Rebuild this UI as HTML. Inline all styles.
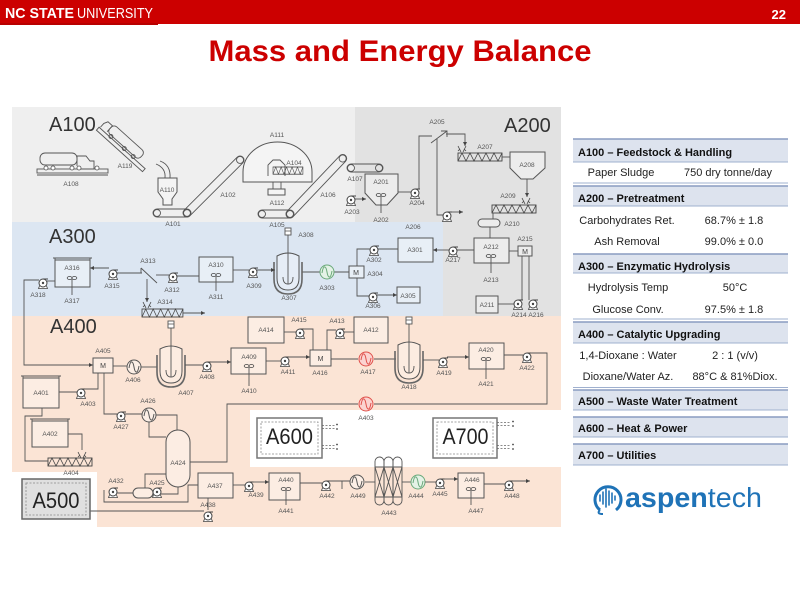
<!DOCTYPE html>
<html><head><meta charset="utf-8"><style>
html,body{margin:0;padding:0;background:#fff;}
svg{display:block;font-family:"Liberation Sans",Arial,sans-serif;}
.l{font-size:6.5px;fill:#555;text-anchor:middle;}
.s{stroke:#555;stroke-width:0.9;fill:none;}
.b{fill:#fff;fill-opacity:.35;stroke:#555;stroke-width:1;}
.th{font-size:11px;font-weight:bold;fill:#111;}
.td{font-size:11px;fill:#222;text-anchor:middle;}
.big{font-size:20px;fill:#333;}
.m{font-size:7px;fill:#444;text-anchor:middle;}
</style></head><body>
<svg width="800" height="600" viewBox="0 0 800 600" xmlns="http://www.w3.org/2000/svg">
<defs>
<marker id="ar" markerWidth="4" markerHeight="4" refX="4" refY="2" orient="auto" markerUnits="userSpaceOnUse"><path d="M0,0 L4,2 L0,4 Z" fill="#444"/></marker>
<g id="p"><path d="M-3.3,2.5 L-4.5,5.5 H4.5 L3.3,2.5" fill="#fff" stroke="#444" stroke-width=".8"/><circle r="4" fill="#fff" stroke="#444" stroke-width="1"/><path d="M0,-4 H5" stroke="#444" stroke-width="1"/><circle r="1.2" fill="#444"/></g>
<g id="ag"><ellipse cx="-2.4" cy="0" rx="2.4" ry="1.5" fill="none" stroke="#444" stroke-width=".8"/><ellipse cx="2.4" cy="0" rx="2.4" ry="1.5" fill="none" stroke="#444" stroke-width=".8"/></g>
<g id="hx"><circle r="7"/><path d="M-5,1 C-3.5,-8 -1,-6 0,0 S3.5,8 5,-1" fill="none"/></g>
<g id="sc"><rect x="0" y="0" width="44" height="8" fill="none" stroke="#444" stroke-width=".9"/><polyline points="0,8 4,0 8,8 12,0 16,8 20,0 24,8 28,0 32,8 36,0 40,8 44,0" fill="none" stroke="#444" stroke-width=".8"/></g>
<g id="fn"><path d="M-4,-6 L-1,0 M4,-6 L1,0 M-2,-3 L-4,-1 M2,-3 L4,-1" fill="none" stroke="#444" stroke-width=".8"/></g>
<g id="rx">
<path d="M-11,4 V26 Q-11,38 0,38 Q11,38 11,26 V4 Q0,-2 -11,4 Z" fill="#fff" fill-opacity=".3" stroke="#555" stroke-width="1"/>
<path d="M-14,10 V27 Q-14,42 0,42 Q14,42 14,27 V10" fill="none" stroke="#666" stroke-width="1.6"/>
<path d="M0,-17 V32 M-5,25 Q-5,32 0,32 Q5,32 5,25" fill="none" stroke="#555" stroke-width=".9"/>
<rect x="-3" y="-24" width="6" height="7" fill="#fff" stroke="#555" stroke-width=".9"/>
<path d="M-3,-21 H3" stroke="#555" stroke-width=".8"/>
</g>
<g id="cv"><rect x="-4" y="-4" width="83" height="8" rx="4" fill="none" stroke="#555" stroke-width=".9"/><circle cx="0" cy="0" r="3.5" fill="none" stroke="#555" stroke-width=".9"/><circle cx="75" cy="0" r="3.5" fill="none" stroke="#555" stroke-width=".9"/></g>
</defs>

<!-- Header -->
<rect x="0" y="0" width="800" height="24" fill="#cc0000"/>
<rect x="0" y="23" width="158" height="2" fill="#b80000"/>
<text x="5" y="18" font-size="15" font-weight="bold" fill="#fff" textLength="69" lengthAdjust="spacingAndGlyphs">NC STATE</text>
<text x="77" y="18" font-size="15" fill="#fff" textLength="76" lengthAdjust="spacingAndGlyphs">UNIVERSITY</text>
<text x="786" y="19" font-size="13" font-weight="bold" fill="#fff" text-anchor="end">22</text>
<text x="400" y="61" font-size="30" font-weight="bold" fill="#cc0000" text-anchor="middle" textLength="383" lengthAdjust="spacingAndGlyphs">Mass and Energy Balance</text>

<!-- Diagram backgrounds -->
<rect x="12" y="107" width="343" height="115" fill="#efefef"/>
<rect x="355" y="107" width="206" height="211" fill="#e2e2e2"/>
<rect x="12" y="222" width="431" height="94" fill="#dce6f2"/>
<rect x="12" y="316" width="549" height="211" fill="#fbe4d5"/>
<rect x="250" y="410" width="311" height="57" fill="#fff"/>
<rect x="0" y="472" width="97" height="58" fill="#fff"/>

<text x="49" y="131" class="big">A100</text>
<text x="504" y="132" class="big">A200</text>
<text x="49" y="243" class="big">A300</text>
<text x="50" y="333" class="big">A400</text>

<!-- ===== A100 ===== -->
<g class="s">
<rect x="40" y="153" width="37" height="12" rx="5"/>
<path d="M77,166 V156 H86 L90,161 H94 V169 H77"/>
<rect x="37" y="169" width="71" height="4"/>
<path d="M37,175 H108"/>
</g>
<g fill="#fff" stroke="#555" stroke-width=".8"><circle cx="46" cy="168" r="2"/><circle cx="53" cy="168" r="2"/><circle cx="72" cy="168" r="2"/><circle cx="79" cy="168" r="2"/><circle cx="97" cy="168" r="2"/></g>
<text x="71" y="186" class="l">A108</text>

<g transform="translate(106,124) rotate(42)" class="s">
<rect x="6" y="-5" width="42" height="10" rx="4"/>
<path d="M6,5 V-3 H0 L-2,1 V6"/>
<rect x="-3" y="7" width="62" height="4"/>
<circle cx="12" cy="6" r="2"/><circle cx="30" cy="6" r="2"/><circle cx="42" cy="6" r="2"/>
</g>
<path class="s" d="M156,164 Q166,168 165,178 M160,161 Q171,165 170,178"/>
<text x="125" y="168" class="l">A119</text>

<path class="b" d="M158,178 H177 V192 L172,199 V205 H163 V199 L158,192 Z"/>
<text x="167" y="192" class="l">A110</text>

<g class="s"><rect x="153" y="209" width="38" height="8" rx="4"/><circle cx="157" cy="213" r="3.5"/><circle cx="187" cy="213" r="3.5"/></g>
<text x="173" y="226" class="l">A101</text>
<use href="#cv" transform="translate(187,213) rotate(-45)"/>
<text x="228" y="197" class="l">A102</text>

<path class="b" d="M243,182 V172 A34.5,30 0 0 1 312,172 V182 Z"/>
<text x="277" y="137" class="l">A111</text>
<path class="s" d="M268,176 V165 L273,160 H280 L285,165 V176"/>
<use href="#sc" transform="translate(273,167) scale(0.68,0.9)"/>
<text x="294" y="165" class="l">A104</text>
<path class="s" d="M273,182 V189 M281,182 V189"/>
<rect x="268" y="189" width="17" height="6" class="b"/>
<text x="277" y="205" class="l">A112</text>
<g class="s"><rect x="258" y="210" width="36" height="8" rx="4"/><circle cx="262" cy="214" r="3.5"/><circle cx="290" cy="214" r="3.5"/></g>
<text x="277" y="227" class="l">A105</text>
<use href="#cv" transform="translate(290,214) rotate(-46.5) scale(1.02,1)"/>
<text x="328" y="197" class="l">A106</text>
<g class="s"><rect x="347" y="164" width="36" height="8" rx="4"/><circle cx="351" cy="168" r="3.5"/><circle cx="379" cy="168" r="3.5"/></g>
<text x="355" y="181" class="l">A107</text>

<!-- ===== A200 ===== -->
<path class="b" d="M365,174 H398 V193 L387,205 H376 L365,193 Z"/>
<text x="381" y="184" class="l">A201</text>
<use href="#ag" x="381" y="195"/>
<path class="s" d="M381,195 V213"/>
<text x="381" y="222" class="l">A202</text>
<path class="s" d="M355,199 H366" marker-end="url(#ar)"/>
<use href="#p" x="351" y="200"/>
<text x="352" y="214" class="l">A203</text>
<path class="s" d="M398,192 H411"/>
<use href="#p" x="415" y="193"/>
<path class="s" d="M419,189 V136 H432" />
<text x="417" y="205" class="l">A204</text>
<path class="s" d="M431,143 L447,131 M441,131 H447 V137"/>
<text x="437" y="124" class="l">A205</text>
<path class="s" d="M437,139 V215 H443"/>
<use href="#p" x="447" y="216"/>
<path class="s" d="M452,212 H463" marker-end="url(#ar)"/>
<path class="s" d="M446,134 H465 V146" marker-end="url(#ar)"/>
<use href="#sc" x="458" y="153"/>
<use href="#fn" x="462" y="152"/>
<text x="485" y="149" class="l">A207</text>
<path class="s" d="M502,157 H510"/>
<path class="b" d="M510,152 H545 V168 L533,179 H521 L510,168 Z"/>
<text x="527" y="167" class="l">A208</text>
<path class="s" d="M527,179 V197" marker-end="url(#ar)"/>
<use href="#sc" x="492" y="205"/>
<use href="#fn" x="526" y="204"/>
<text x="508" y="198" class="l">A209</text>
<path class="s" d="M493,213 V219"/>
<rect x="478" y="219" width="22" height="8" rx="4" class="b"/>
<text x="512" y="226" class="l">A210</text>
<path class="s" d="M490,227 V238"/>
<rect x="474" y="238" width="35" height="25" class="b"/>
<text x="491" y="249" class="l">A212</text>
<use href="#ag" x="491" y="256"/>
<path class="s" d="M491,256 V273"/>
<text x="491" y="282" class="l">A213</text>
<rect x="518" y="246" width="14" height="10" class="b"/>
<text x="525" y="254" class="m">M</text>
<text x="525" y="241" class="l">A215</text>
<path class="s" d="M518,251 H509"/>
<path class="s" d="M522,256 V300 M529,256 V300"/>
<rect x="476" y="296" width="22" height="17" class="b"/>
<text x="487" y="307" class="l">A211</text>
<path class="s" d="M498,304 H514"/>
<use href="#p" x="518" y="304"/>
<use href="#p" x="533" y="304"/>
<text x="519" y="317" class="l">A214</text>
<text x="536" y="317" class="l">A216</text>
<path class="s" d="M474,250 H457"/>
<use href="#p" x="453" y="251"/>
<path class="s" d="M449,250 H433" marker-end="url(#ar)"/>
<text x="453" y="262" class="l">A217</text>
<text x="413" y="229" class="l">A206</text>

<!-- ===== A300 ===== -->
<rect x="398" y="238" width="35" height="24" class="b"/>
<text x="415" y="252" class="l">A301</text>
<path class="s" d="M398,249 H378"/>
<use href="#p" x="374" y="250"/>
<path class="s" d="M370,249 H357 V266"/>
<text x="374" y="262" class="l">A302</text>
<rect x="349" y="266" width="15" height="12" class="b"/>
<text x="356" y="275" class="m">M</text>
<text x="375" y="276" class="l">A304</text>
<path class="s" d="M357,278 V296 H369"/>
<use href="#p" x="373" y="297"/>
<path class="s" d="M377,295 H397" marker-end="url(#ar)"/>
<rect x="397" y="287" width="23" height="16" class="b"/>
<text x="408" y="298" class="l">A305</text>
<text x="373" y="308" class="l">A306</text>
<path class="s" d="M302,272 H320 M334,272 H349"/>
<use href="#hx" x="327" y="272" fill="#e4f2e6" stroke="#6aa97a" stroke-width="1"/>
<text x="327" y="290" class="l">A303</text>
<use href="#rx" x="288" y="252"/>
<text x="306" y="237" class="l">A308</text>
<text x="289" y="300" class="l">A307</text>
<path class="s" d="M233,270 H249"/>
<use href="#p" x="253" y="272"/>
<path class="s" d="M257,270 H275" marker-end="url(#ar)"/>
<text x="254" y="288" class="l">A309</text>
<rect x="199" y="257" width="34" height="25" class="b"/>
<text x="216" y="267" class="l">A310</text>
<use href="#ag" x="216" y="275"/>
<path class="s" d="M216,275 V291"/>
<text x="216" y="299" class="l">A311</text>
<path class="s" d="M199,276 H177"/>
<use href="#p" x="173" y="277"/>
<path class="s" d="M169,275 H156"/>
<text x="172" y="292" class="l">A312</text>
<path class="s" d="M141,268 L157,283 M141,268 V273"/>
<text x="148" y="263" class="l">A313</text>
<path class="s" d="M147,279 V302" marker-end="url(#ar)"/>
<use href="#fn" x="147" y="308"/>
<use href="#sc" transform="translate(142,309) scale(0.93,1)"/>
<text x="165" y="304" class="l">A314</text>
<path class="s" d="M183,313 H205" marker-end="url(#ar)"/>
<path class="s" d="M142,273 H117"/>
<use href="#p" x="113" y="274"/>
<path class="s" d="M109,268 H90" marker-end="url(#ar)"/>
<text x="112" y="288" class="l">A315</text>
<rect x="55" y="260" width="35" height="27" class="b"/>
<path class="s" d="M53,258 H92 M55,258 V260 M90,258 V260"/>
<text x="72" y="270" class="l">A316</text>
<use href="#ag" x="72" y="278"/>
<path class="s" d="M72,278 V295"/>
<text x="72" y="303" class="l">A317</text>
<path class="s" d="M55,281 H47"/>
<use href="#p" x="43" y="283"/>
<path class="s" d="M39,280 H24 V365 H93" marker-end="url(#ar)"/>
<text x="38" y="297" class="l">A318</text>

<!-- ===== A400 ===== -->
<rect x="93" y="358" width="20" height="15" class="b"/>
<text x="103" y="368" class="m">M</text>
<text x="103" y="353" class="l">A405</text>
<path class="s" d="M113,366 H127"/>
<use href="#hx" x="134" y="367" fill="#fff" fill-opacity=".4" stroke="#555" stroke-width="1"/>
<text x="133" y="382" class="l">A406</text>
<path class="s" d="M141,367 H157"/>
<use href="#rx" x="171" y="345"/>
<text x="186" y="395" class="l">A407</text>
<path class="s" d="M185,365 H203"/>
<use href="#p" x="207" y="366"/>
<path class="s" d="M211,362 H231" marker-end="url(#ar)"/>
<text x="207" y="379" class="l">A408</text>
<rect x="231" y="348" width="35" height="26" class="b"/>
<text x="249" y="359" class="l">A409</text>
<use href="#ag" x="249" y="366"/>
<path class="s" d="M249,366 V386"/>
<text x="249" y="393" class="l">A410</text>
<path class="s" d="M266,361 H281"/>
<use href="#p" x="285" y="361"/>
<path class="s" d="M289,357 H310" marker-end="url(#ar)"/>
<text x="288" y="374" class="l">A411</text>
<rect x="248" y="317" width="36" height="26" class="b"/>
<text x="266" y="332" class="l">A414</text>
<path class="s" d="M284,332 H296"/>
<use href="#p" x="300" y="333"/>
<path class="s" d="M304,329 H313 V350"/>
<text x="299" y="322" class="l">A415</text>
<rect x="310" y="350" width="21" height="16" class="b"/>
<text x="320.5" y="361" class="m">M</text>
<text x="320" y="375" class="l">A416</text>
<path class="s" d="M354,332 H344"/>
<use href="#p" x="340" y="333"/>
<path class="s" d="M336,330 H327 V350"/>
<text x="337" y="323" class="l">A413</text>
<rect x="354" y="317" width="34" height="26" class="b"/>
<text x="371" y="332" class="l">A412</text>
<path class="s" d="M331,359 H358 M374,359 H396"/>
<use href="#hx" x="366" y="359" fill="#fbd3d0" stroke="#e0504a" stroke-width="1"/>
<text x="368" y="374" class="l">A417</text>
<use href="#rx" x="409" y="341"/>
<text x="409" y="389" class="l">A418</text>
<path class="s" d="M423,360 H439"/>
<use href="#p" x="443" y="362"/>
<path class="s" d="M447,357 H469" marker-end="url(#ar)"/>
<text x="444" y="375" class="l">A419</text>
<rect x="469" y="343" width="35" height="26" class="b"/>
<text x="486" y="352" class="l">A420</text>
<use href="#ag" x="486" y="359"/>
<path class="s" d="M486,359 V379"/>
<text x="486" y="386" class="l">A421</text>
<path class="s" d="M504,355 H523"/>
<use href="#p" x="527" y="357"/>
<path class="s" d="M531,353 H547 V404 H374 M358,404 H227 V462 H190" />
<use href="#hx" x="366" y="404" fill="#fbd3d0" stroke="#e0504a" stroke-width="1"/>
<text x="366" y="420" class="l">A403</text>
<text x="527" y="370" class="l">A422</text>

<rect x="23" y="378" width="36" height="30" class="b"/>
<path class="s" d="M21,376 H61 M23,376 V378 M59,376 V378"/>
<text x="41" y="395" class="l">A401</text>
<path class="s" d="M59,392 H77"/>
<use href="#p" x="81" y="393"/>
<path class="s" d="M85,389 H98 V373"/>
<text x="88" y="406" class="l">A403</text>
<rect x="32" y="421" width="36" height="26" class="b"/>
<path class="s" d="M30,419 H70 M32,419 V421 M68,419 V421"/>
<text x="50" y="436" class="l">A402</text>
<path class="s" d="M68,434 H82 V450"/>
<use href="#fn" x="82" y="458"/>
<use href="#sc" x="48" y="458"/>
<text x="71" y="475" class="l">A404</text>
<path class="s" d="M48,461 H25 V416 H42 V408"/>
<path class="s" d="M104,373 V414 H117"/>
<use href="#p" x="121" y="416"/>
<path class="s" d="M125,414 H142"/>
<text x="121" y="429" class="l">A427</text>
<use href="#hx" x="149" y="415" fill="#fff" fill-opacity=".4" stroke="#555" stroke-width="1"/>
<text x="148" y="403" class="l">A426</text>
<path class="s" d="M156,415 H177 V430 M149,422 V437 H166"/>
<rect x="166" y="430" width="24" height="57" rx="12" class="b"/>
<text x="178" y="465" class="l">A424</text>
<path class="s" d="M178,487 V494 H161 M145,488 V474 H166"/>
<rect x="133" y="488" width="20" height="10" rx="5" class="b"/>
<use href="#p" x="157" y="492"/>
<text x="157" y="485" class="l">A425</text>
<use href="#p" x="113" y="492"/>
<path class="s" d="M117,493 H133 M104,490 V502 H188 V485 H198"/>
<text x="116" y="483" class="l">A432</text>
<rect x="198" y="473" width="35" height="25" class="b"/>
<text x="215" y="488" class="l">A437</text>
<path class="s" d="M233,485 H245"/>
<use href="#p" x="249" y="486"/>
<path class="s" d="M253,482 H269" marker-end="url(#ar)"/>
<text x="256" y="497" class="l">A439</text>
<path class="s" d="M208,498 V510"/>
<use href="#p" x="208" y="516"/>
<text x="208" y="507" class="l">A438</text>
<path class="s" d="M90,511 H204"/>
<rect x="269" y="473" width="31" height="27" class="b"/>
<text x="286" y="482" class="l">A440</text>
<use href="#ag" x="286" y="489"/>
<path class="s" d="M286,489 V505"/>
<text x="286" y="513" class="l">A441</text>
<path class="s" d="M300,483 H322"/>
<use href="#p" x="326" y="485"/>
<path class="s" d="M330,481 H350 M342,481 V489"/>
<text x="327" y="498" class="l">A442</text>
<use href="#hx" x="357" y="482" fill="#fff" fill-opacity=".4" stroke="#555" stroke-width="1"/>
<text x="358" y="498" class="l">A449</text>
<path class="s" d="M365,482 H375"/>
<g class="s">
<rect x="375" y="457" width="9" height="48" rx="4.5"/>
<rect x="384" y="457" width="9" height="48" rx="4.5"/>
<rect x="393" y="457" width="9" height="48" rx="4.5"/>
<path d="M375,467 L384,497 M384,467 L375,497 M384,467 L393,497 M393,467 L384,497 M393,467 L402,497 M402,467 L393,497 M375,467 H402 M375,497 H402"/>
</g>
<text x="389" y="515" class="l">A443</text>
<path class="s" d="M402,482 H411"/>
<use href="#hx" x="418" y="482" fill="#e4f2e6" stroke="#6aa97a" stroke-width="1"/>
<text x="416" y="498" class="l">A444</text>
<path class="s" d="M425,482 H436"/>
<use href="#p" x="440" y="483"/>
<path class="s" d="M444,479 H458" marker-end="url(#ar)"/>
<text x="440" y="496" class="l">A445</text>
<rect x="458" y="473" width="26" height="25" class="b"/>
<text x="472" y="482" class="l">A446</text>
<use href="#ag" x="471" y="489"/>
<path class="s" d="M471,489 V505"/>
<text x="476" y="513" class="l">A447</text>
<path class="s" d="M484,484 H505"/>
<use href="#p" x="509" y="485"/>
<path class="s" d="M513,481 H530" marker-end="url(#ar)"/>
<text x="512" y="498" class="l">A448</text>

<!-- A500 / A600 / A700 -->
<rect x="22" y="479" width="68" height="40" fill="#e0e0e0" stroke="#666" stroke-width="1.5"/>
<rect x="26" y="483" width="60" height="32" fill="none" stroke="#888" stroke-width=".8" stroke-dasharray="2,1.5"/>
<text x="56" y="508" font-size="22" fill="#222" text-anchor="middle" textLength="47" lengthAdjust="spacingAndGlyphs">A500</text>

<rect x="257" y="418" width="65" height="40" fill="#fff" stroke="#777" stroke-width="1.5"/>
<rect x="261" y="422" width="57" height="32" fill="none" stroke="#888" stroke-width=".8" stroke-dasharray="2,1.5"/>
<text x="289.5" y="444" font-size="22" fill="#222" text-anchor="middle" textLength="47" lengthAdjust="spacingAndGlyphs">A600</text>
<g stroke="#666" stroke-width=".8" stroke-dasharray="2,1.5" fill="none"><path d="M322,425.5 H335 M322,428.5 H335 M322,445.5 H335 M322,448.5 H335"/></g>
<g fill="#444"><circle cx="337" cy="424.5" r=".9"/><circle cx="337" cy="429" r=".9"/><circle cx="337" cy="444.5" r=".9"/><circle cx="337" cy="449" r=".9"/></g>

<rect x="433" y="418" width="64" height="40" fill="#fff" stroke="#777" stroke-width="1.5"/>
<rect x="437" y="422" width="56" height="32" fill="none" stroke="#888" stroke-width=".8" stroke-dasharray="2,1.5"/>
<text x="465.5" y="444" font-size="22" fill="#222" text-anchor="middle" textLength="46" lengthAdjust="spacingAndGlyphs">A700</text>
<g stroke="#666" stroke-width=".8" stroke-dasharray="2,1.5" fill="none"><path d="M497,422.5 H511 M497,425.5 H511 M497,445.5 H511 M497,448.5 H511"/></g>
<g fill="#444"><circle cx="513" cy="421.5" r=".9"/><circle cx="513" cy="426" r=".9"/><circle cx="513" cy="444.5" r=".9"/><circle cx="513" cy="449" r=".9"/></g>

<!-- ===== Table ===== -->
<g>
<rect x="573" y="139" width="215" height="23" fill="#dde3ee"/>
<rect x="573" y="186" width="215" height="20" fill="#dde3ee"/>
<rect x="573" y="254" width="215" height="19" fill="#dde3ee"/>
<rect x="573" y="322" width="215" height="21" fill="#dde3ee"/>
<rect x="573" y="390" width="215" height="20" fill="#dde3ee"/>
<rect x="573" y="417" width="215" height="20" fill="#dde3ee"/>
<rect x="573" y="444" width="215" height="21" fill="#dde3ee"/>
<g stroke="#8a9cc0" stroke-width="1.5">
<path d="M573,139 H788 M573,186 H788 M573,254 H788 M573,322 H788 M573,390 H788 M573,417 H788 M573,444 H788"/>
</g>
<g stroke="#9fb0cf" stroke-width="1">
<path d="M573,162 H788 M573,183 H788 M573,206 H788 M573,273 H788 M573,319 H788 M573,343 H788 M573,387.5 H788 M573,410 H788 M573,437 H788 M573,465 H788"/>
</g>
<text x="578" y="156" class="th">A100 – Feedstock &amp; Handling</text>
<text x="621" y="176" class="td">Paper Sludge</text>
<text x="728" y="176" class="td">750 dry tonne/day</text>
<text x="578" y="202" class="th">A200 – Pretreatment</text>
<text x="627" y="224" class="td">Carbohydrates Ret.</text>
<text x="734" y="224" class="td">68.7% ± 1.8</text>
<text x="627" y="245" class="td">Ash Removal</text>
<text x="734" y="245" class="td">99.0% ± 0.0</text>
<text x="578" y="270" class="th">A300 – Enzymatic Hydrolysis</text>
<text x="628" y="291" class="td">Hydrolysis Temp</text>
<text x="735" y="291" class="td">50°C</text>
<text x="628" y="313" class="td">Glucose Conv.</text>
<text x="734" y="313" class="td">97.5% ± 1.8</text>
<text x="578" y="338" class="th">A400 – Catalytic Upgrading</text>
<text x="628" y="359" class="td">1,4-Dioxane : Water</text>
<text x="735" y="359" class="td">2 : 1 (v/v)</text>
<text x="628" y="380" class="td">Dioxane/Water Az.</text>
<text x="735" y="380" class="td">88°C &amp; 81%Diox.</text>
<text x="578" y="405" class="th">A500 – Waste Water Treatment</text>
<text x="578" y="432" class="th">A600 – Heat &amp; Power</text>
<text x="578" y="459" class="th">A700 – Utilities</text>
</g>

<!-- ===== aspentech logo ===== -->
<g>
<path d="M600,510 A13,13 0 1 1 616,510" fill="none" stroke="#1f73b7" stroke-width="3"/>
<path d="M600,510 Q596,514 603,514" fill="none" stroke="#1f73b7" stroke-width="2"/>
<g stroke="#1f73b7" stroke-width="1.6" stroke-linecap="round">
<path d="M600,495 V501 M603,492 V504 M606,489 V507 M609,491 V505 M612,493 V503 M615,496 V500"/>
</g>
<text x="625" y="507" font-size="28" fill="#1f73b7" textLength="137" lengthAdjust="spacingAndGlyphs"><tspan font-weight="bold">aspen</tspan><tspan>tech</tspan></text>
</g>
</svg>
</body></html>
